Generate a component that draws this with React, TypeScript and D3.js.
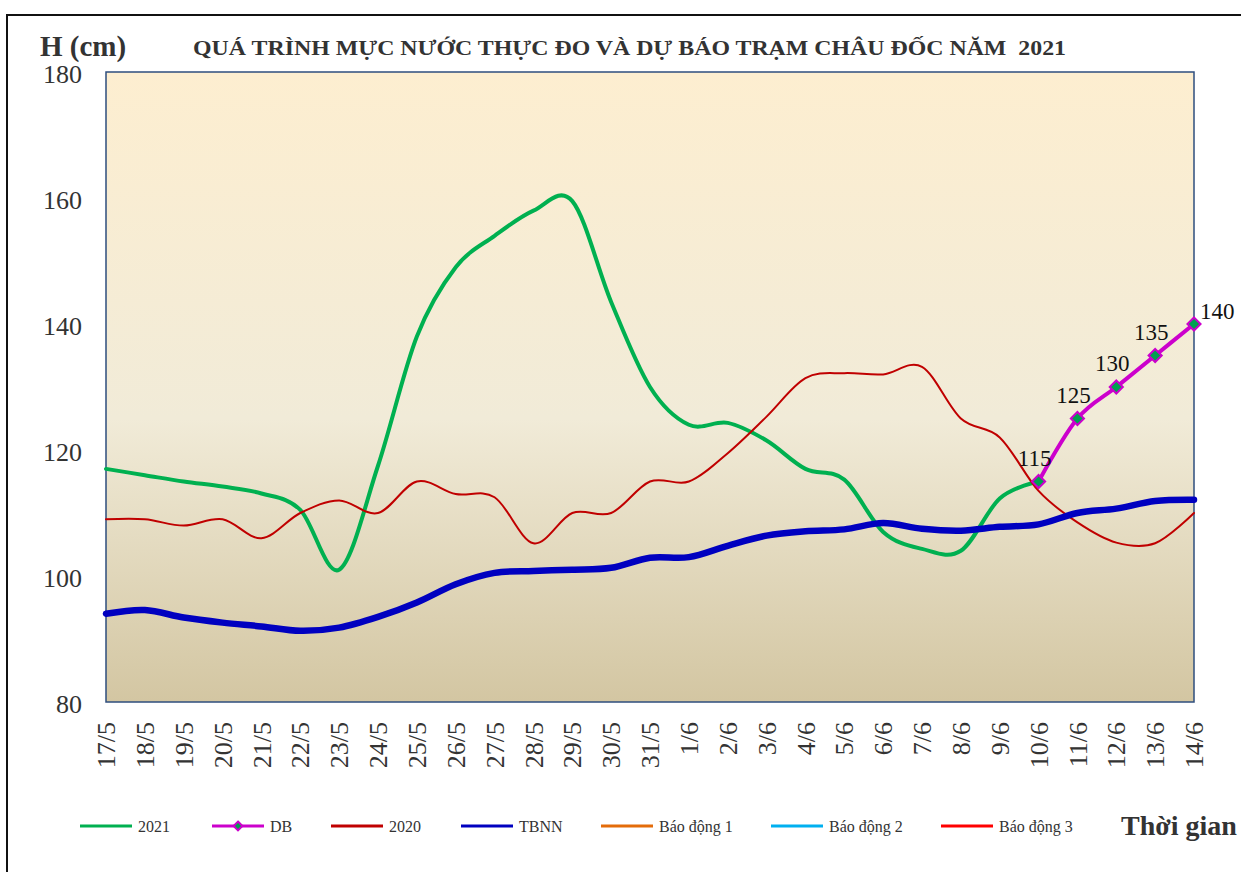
import * as d3 from "d3";
import { useEffect, useRef } from "react";

// ngày trên trục hoành
const days = [
  "17/5", "18/5", "19/5", "20/5", "21/5", "22/5", "23/5", "24/5", "25/5",
  "26/5", "27/5", "28/5", "29/5", "30/5", "31/5", "1/6", "2/6", "3/6",
  "4/6", "5/6", "6/6", "7/6", "8/6", "9/6", "10/6", "11/6", "12/6", "13/6", "14/6",
];

// mực nước thực đo 2021 (đến 10/6)
const h2021 = [
  117, 116, 115, 114.2, 113.1, 110.5, 101, 117.5, 138, 149, 154, 158, 159.5,
  143.5, 130, 124, 124.3, 121.5, 117, 115.3, 107, 104.3, 104, 112.3, 115,
];

// dự báo từ 10/6
const dbDays = ["10/6", "11/6", "12/6", "13/6", "14/6"];
const hDB = [115, 125, 130, 135, 140];

const h2020 = [
  109, 109, 108, 109, 106, 110, 112, 110, 115, 113, 112.5, 105.2, 110, 110,
  115, 115, 119.5, 125.3, 131.4, 132.2, 132, 133.2, 125, 122, 113.5, 108.5,
  105.3, 105.2, 110,
];

const hTBNN = [
  94, 94.6, 93.4, 92.6, 92, 91.3, 91.8, 93.5, 95.8, 98.7, 100.5, 100.8, 101,
  101.3, 102.9, 103, 104.8, 106.4, 107.1, 107.4, 108.4, 107.5, 107.2, 107.8,
  108.2, 110, 110.7, 111.9, 112.1,
];

const yTicks = [80, 100, 120, 140, 160, 180];

const legendItems = [
  { name: "2021", color: "#00B050", marker: false },
  { name: "DB", color: "#CC00CC", marker: true },
  { name: "2020", color: "#C00000", marker: false },
  { name: "TBNN", color: "#0000C0", marker: false },
  { name: "Báo động 1", color: "#E46C0A", marker: false },
  { name: "Báo động 2", color: "#00B0F0", marker: false },
  { name: "Báo động 3", color: "#FF0000", marker: false },
];

const title = "QUÁ TRÌNH MỰC NƯỚC THỰC ĐO VÀ DỰ BÁO TRẠM CHÂU ĐỐC NĂM  2021";

export default function App() {
  const svgRef = useRef<SVGSVGElement | null>(null);

  useEffect(() => {
    document.body.style.margin = "0";
    if (!svgRef.current) return;

    const W = 1241;
    const H = 872;
    const plot = { left: 106, top: 72, right: 1194, bottom: 702 };
    const serif = "'Liberation Serif', 'Times New Roman', serif";

    const svg = d3.select(svgRef.current);
    svg.selectAll("*").remove();

    const x = d3
      .scalePoint<string>()
      .domain(days)
      .range([plot.left, plot.right]);
    const y = d3.scaleLinear().domain([80, 180]).range([plot.bottom, plot.top]);

    // nền và khung ngoài
    svg.append("rect").attr("width", W).attr("height", H).attr("fill", "#fff");
    svg
      .append("rect")
      .attr("x", 7)
      .attr("y", 15)
      .attr("width", W + 20)
      .attr("height", H + 20)
      .attr("fill", "none")
      .attr("stroke", "#111")
      .attr("stroke-width", 2);

    const defs = svg.append("defs");
    const grad = defs
      .append("linearGradient")
      .attr("id", "bg")
      .attr("x1", 0)
      .attr("y1", 0)
      .attr("x2", 0)
      .attr("y2", 1);
    grad.append("stop").attr("offset", "0%").attr("stop-color", "#FDEED0");
    grad.append("stop").attr("offset", "55%").attr("stop-color", "#F1EBD8");
    grad.append("stop").attr("offset", "100%").attr("stop-color", "#D3C6A2");

    svg
      .append("rect")
      .attr("x", plot.left)
      .attr("y", plot.top)
      .attr("width", plot.right - plot.left)
      .attr("height", plot.bottom - plot.top)
      .attr("fill", "url(#bg)")
      .attr("stroke", "#2E4E7E")
      .attr("stroke-width", 1.5);

    // tiêu đề
    svg
      .append("text")
      .attr("x", 40)
      .attr("y", 56)
      .attr("font-family", serif)
      .attr("font-weight", "bold")
      .attr("font-size", 29)
      .attr("fill", "#333")
      .text("H (cm)");
    svg
      .append("text")
      .attr("x", 193)
      .attr("y", 55)
      .attr("font-family", serif)
      .attr("font-weight", "bold")
      .attr("font-size", 22)
      .attr("fill", "#333")
      .attr("textLength", 873)
      .attr("lengthAdjust", "spacingAndGlyphs")
      .style("white-space", "pre")
      .text(title);

    // trục tung
    svg
      .append("g")
      .selectAll("text")
      .data(yTicks)
      .enter()
      .append("text")
      .attr("x", 82)
      .attr("y", (d) => y(d))
      .attr("dy", "0.42em")
      .attr("text-anchor", "end")
      .attr("font-family", serif)
      .attr("font-size", 26)
      .attr("fill", "#333")
      .text((d) => d);

    // trục hoành
    svg
      .append("g")
      .selectAll("text")
      .data(days)
      .enter()
      .append("text")
      .attr("transform", (d) => `translate(${x(d)},722) rotate(-90)`)
      .attr("dy", "0.35em")
      .attr("text-anchor", "end")
      .attr("font-family", serif)
      .attr("font-size", 26)
      .attr("fill", "#333")
      .text((d) => d);

    const line = d3
      .line<[string, number]>()
      .x((d) => x(d[0]) ?? 0)
      .y((d) => y(d[1]))
      .curve(d3.curveCatmullRom.alpha(0));

    const zip = (ds: string[], vs: number[]) =>
      vs.map((v, i) => [ds[i], v] as [string, number]);

    const series = [
      { data: zip(days, h2021), color: "#00B050", width: 4 },
      { data: zip(days, h2020), color: "#C00000", width: 2 },
      { data: zip(days, hTBNN), color: "#0000C0", width: 6.5 },
      { data: zip(dbDays, hDB), color: "#CC00CC", width: 4 },
    ];

    series.forEach((s) => {
      svg
        .append("path")
        .attr("d", line(s.data))
        .attr("fill", "none")
        .attr("stroke", s.color)
        .attr("stroke-width", s.width)
        .attr("stroke-linejoin", "round")
        .attr("stroke-linecap", "round");
    });

    const diamond = d3.symbol().type(d3.symbolDiamond2).size(110);
    const dbPts = zip(dbDays, hDB);
    svg
      .append("g")
      .selectAll("path")
      .data(dbPts)
      .enter()
      .append("path")
      .attr("d", diamond)
      .attr("transform", (d) => `translate(${x(d[0])},${y(d[1])})`)
      .attr("fill", "#00A050")
      .attr("stroke", "#CC00CC")
      .attr("stroke-width", 2);

    svg
      .append("g")
      .selectAll("text")
      .data(dbPts)
      .enter()
      .append("text")
      .attr("x", (d, i) => (x(d[0]) ?? 0) + (i === dbPts.length - 1 ? 6 : -4))
      .attr("y", (d, i) => y(d[1]) - (i === dbPts.length - 1 ? 5 : 16))
      .attr("text-anchor", (d, i) => (i === dbPts.length - 1 ? "start" : "middle"))
      .attr("font-family", serif)
      .attr("font-size", 23)
      .attr("fill", "#111")
      .text((d) => d[1]);

    // chú giải
    const legendX = [80, 212, 331, 461, 601, 771, 941];
    const ly = 826;
    const lg = svg.append("g");
    legendItems.forEach((it, i) => {
      const x0 = legendX[i];
      lg.append("line")
        .attr("x1", x0)
        .attr("x2", x0 + 52)
        .attr("y1", ly)
        .attr("y2", ly)
        .attr("stroke", it.color)
        .attr("stroke-width", 3);
      if (it.marker) {
        lg.append("path")
          .attr("d", d3.symbol().type(d3.symbolDiamond2).size(50)())
          .attr("transform", `translate(${x0 + 26},${ly})`)
          .attr("fill", "#00A050")
          .attr("stroke", "#CC00CC")
          .attr("stroke-width", 2);
      }
      lg.append("text")
        .attr("x", x0 + 58)
        .attr("y", ly)
        .attr("dy", "0.35em")
        .attr("font-family", serif)
        .attr("font-size", 16)
        .attr("fill", "#333")
        .text(it.name);
    });

    svg
      .append("text")
      .attr("x", 1121)
      .attr("y", 835)
      .attr("font-family", serif)
      .attr("font-weight", "bold")
      .attr("font-size", 28)
      .attr("fill", "#333")
      .text("Thời gian");
  }, []);

  return (
    <svg
      ref={svgRef}
      width={1241}
      height={872}
      style={{ position: "absolute", left: 0, top: 0, display: "block" }}
    />
  );
}
